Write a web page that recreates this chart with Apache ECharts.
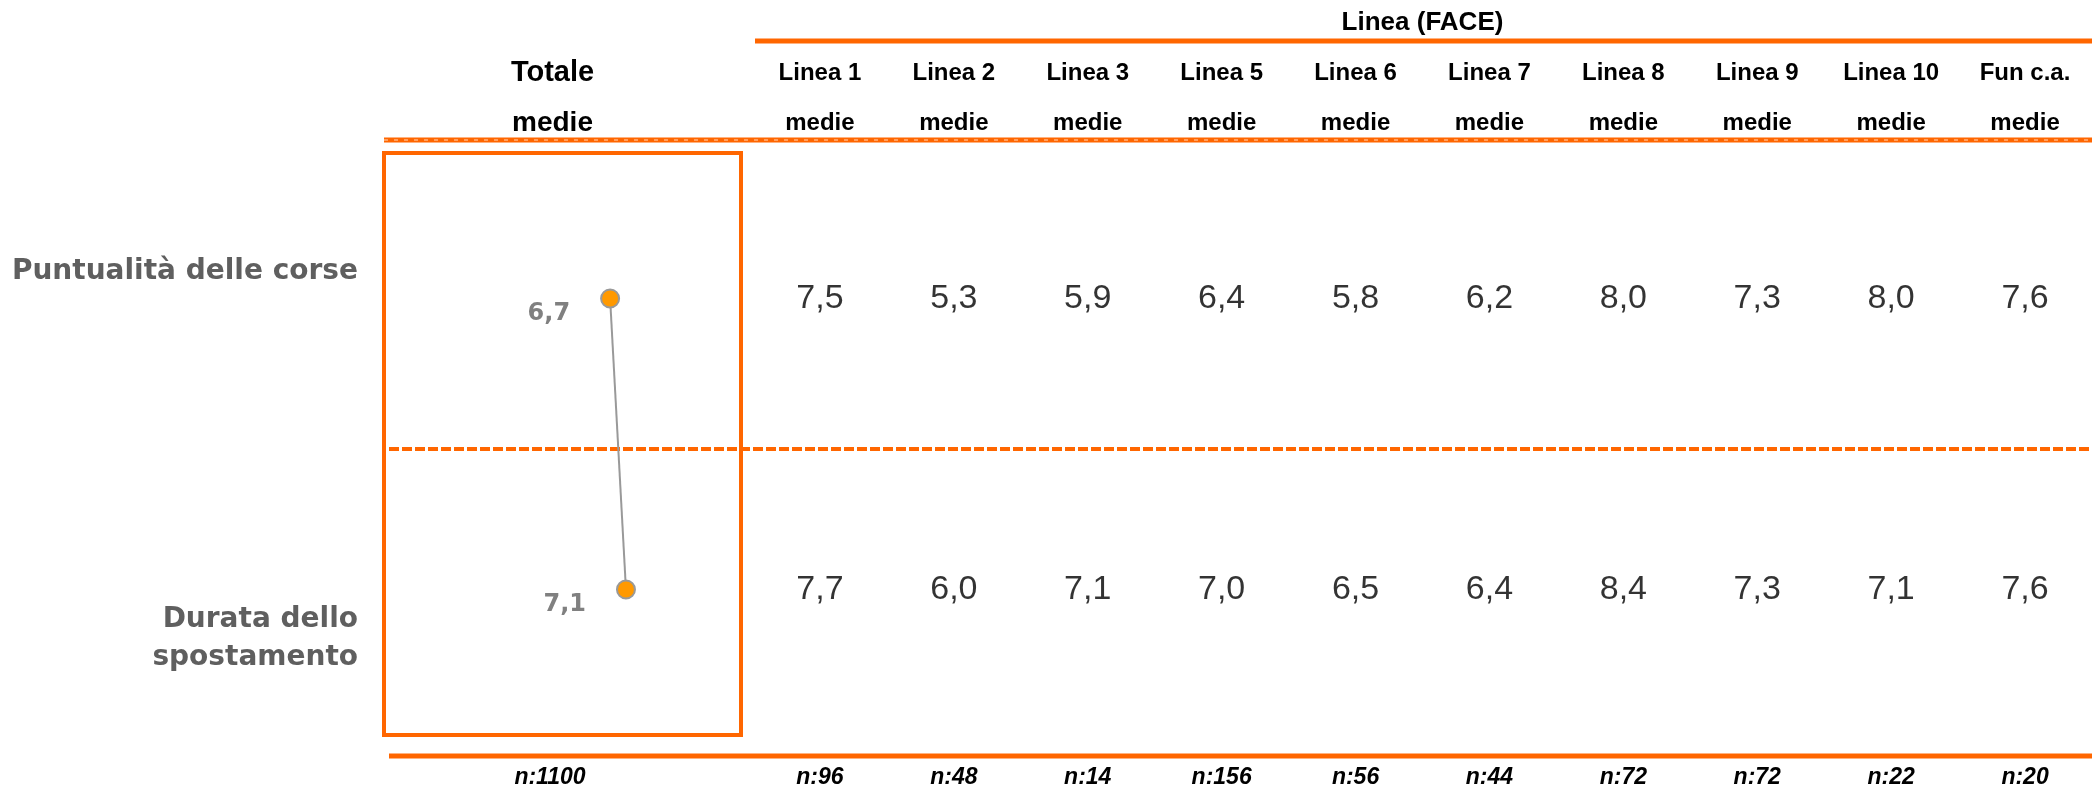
<!DOCTYPE html>
<html>
<head>
<meta charset="utf-8">
<script src="https://cdn.jsdelivr.net/npm/echarts@6/dist/echarts.min.js"></script>
<style>
  html, body { margin: 0; padding: 0; background: #ffffff; }
  #chart { width: 2092px; height: 794px; }
</style>
</head>
<body>
<div id="chart"></div>
<script>
// Survey aspects (rows)
const aspects = ['Puntualità delle corse', 'Durata dello spostamento'];
// Overall mean per aspect
const totalMeans = [6.7, 7.1];
// Bus lines (columns)
const lines = ['Linea 1', 'Linea 2', 'Linea 3', 'Linea 5', 'Linea 6', 'Linea 7', 'Linea 8', 'Linea 9', 'Linea 10', 'Fun c.a.'];
// Mean per line for each aspect
const punctualityByLine = [7.5, 5.3, 5.9, 6.4, 5.8, 6.2, 8.0, 7.3, 8.0, 7.6];
const durationByLine = [7.7, 6.0, 7.1, 7.0, 6.5, 6.4, 8.4, 7.3, 7.1, 7.6];
// Sample sizes
const sampleTotal = 1100;
const sampleByLine = [96, 48, 14, 156, 56, 44, 72, 72, 22, 20];
const groupTitle = 'Linea (FACE)';
const statLabel = 'medie';
const totalLabel = 'Totale';

const ORANGE = '#FF6600';
const fmt = v => v.toFixed(1).replace('.', ',');

const tableData = [];
lines.forEach((ln, i) => {
  tableData.push([ln, aspects[0], punctualityByLine[i]]);
  tableData.push([ln, aspects[1], durationByLine[i]]);
});

const chart = echarts.init(document.getElementById('chart'), null, { renderer: 'canvas' });

const hiddenAxis = {
  axisLine: { show: false }, axisTick: { show: false },
  axisLabel: { show: false }, splitLine: { show: false }
};

const rowFont = { fontFamily: 'DejaVu Sans', fontWeight: 'bold', fontSize: 28, color: '#5f5f5f', lineHeight: 38 };

chart.setOption({
  backgroundColor: '#ffffff',
  animation: false,
  grid: [
    { left: 384, top: 153, width: 357, height: 582, show: true,
      borderColor: ORANGE, borderWidth: 4, backgroundColor: 'transparent' },
    { left: 753, top: 153, width: 1344, height: 582 }
  ],
  xAxis: [
    // totals: value scale of the dot plot, header on top
    Object.assign({
      type: 'value', gridIndex: 0, min: 1, max: 10, position: 'top',
      name: '{t|' + totalLabel + '}\n{m|' + statLabel + '}',
      nameLocation: 'middle', nameGap: 5,
      nameTextStyle: {
        padding: [0, 20, 0, 0],
        rich: {
          t: { fontFamily: 'Liberation Sans', fontWeight: 'bold', fontSize: 29, color: '#000', lineHeight: 50 },
          m: { fontFamily: 'Liberation Sans', fontWeight: 'bold', fontSize: 28, color: '#000', lineHeight: 50 }
        }
      }
    }, hiddenAxis),
    // totals: sample size below
    Object.assign({
      type: 'value', gridIndex: 0, min: 1, max: 10, position: 'bottom',
      name: 'n:' + sampleTotal, nameLocation: 'middle', nameGap: 31,
      nameTextStyle: { fontFamily: 'Liberation Sans', fontWeight: 'bold', fontStyle: 'italic',
        fontSize: 23, color: '#000', padding: [0, 25, 0, 0] }
    }, hiddenAxis),
    // lines: column headers
    {
      type: 'category', gridIndex: 1, data: lines, position: 'top',
      name: groupTitle, nameLocation: 'middle', nameGap: 117,
      nameTextStyle: { fontFamily: 'Liberation Sans', fontWeight: 'bold', fontSize: 26, color: '#000' },
      axisLine: { show: false }, axisTick: { show: false }, splitLine: { show: false },
      axisLabel: {
        margin: 5, interval: 0,
        formatter: v => '{a|' + v + '}\n{b|' + statLabel + '}',
        rich: {
          a: { fontFamily: 'Liberation Sans', fontWeight: 'bold', fontSize: 24, color: '#000', lineHeight: 50 },
          b: { fontFamily: 'Liberation Sans', fontWeight: 'bold', fontSize: 24, color: '#000', lineHeight: 50 }
        }
      }
    },
    // lines: sample sizes
    {
      type: 'category', gridIndex: 1, data: sampleByLine.map(n => 'n:' + n), position: 'bottom',
      axisLine: { show: false }, axisTick: { show: false }, splitLine: { show: false },
      axisLabel: { margin: 31, interval: 0, fontFamily: 'Liberation Sans', fontWeight: 'bold',
        fontStyle: 'italic', fontSize: 23, color: '#000' }
    }
  ],
  yAxis: [
    {
      type: 'category', gridIndex: 0, data: aspects, inverse: true,
      axisLine: { show: false }, axisTick: { show: false }, splitLine: { show: false },
      axisLabel: {
        margin: 26, interval: 0,
        formatter: v => {
          if (v === aspects[0]) return '{r1|' + v + '}\n{gap1| }';
          return '{gap2| }\n{r2|Durata dello}\n{r2|spostamento}';
        },
        rich: {
          r1: rowFont,
          r2: rowFont,
          gap1: { fontSize: 10, lineHeight: 53 },
          gap2: { fontSize: 10, lineHeight: 99 }
        }
      }
    },
    Object.assign({ type: 'category', gridIndex: 1, data: aspects, inverse: true }, hiddenAxis)
  ],
  series: [
    {
      type: 'line', xAxisIndex: 0, yAxisIndex: 0,
      data: totalMeans.map((v, i) => [v, aspects[i]]),
      symbol: 'circle', symbolSize: 18,
      lineStyle: { color: '#999999', width: 2 },
      itemStyle: { color: '#FF9900', borderColor: '#999999', borderWidth: 2 },
      label: {
        show: true, position: 'left', distance: 30, offset: [0, 15],
        formatter: p => fmt(p.value[0]),
        fontFamily: 'DejaVu Sans', fontWeight: 'bold', fontSize: 24, color: '#808080'
      },
      z: 5
    },
    {
      type: 'scatter', xAxisIndex: 2, yAxisIndex: 1,
      data: tableData, symbolSize: 1,
      itemStyle: { color: 'rgba(0,0,0,0)' },
      label: {
        show: true, position: 'inside',
        formatter: p => fmt(p.value[2]),
        fontFamily: 'Liberation Sans', fontSize: 34, color: '#000'
      }
    }
  ],
  graphic: [
    { type: 'line', shape: { x1: 755, y1: 41, x2: 2092, y2: 41 },
      style: { stroke: ORANGE, lineWidth: 5 } },
    { type: 'line', shape: { x1: 384, y1: 140, x2: 2092, y2: 140 },
      style: { stroke: ORANGE, lineWidth: 5 } },
    { type: 'line', shape: { x1: 384, y1: 140, x2: 2092, y2: 140 },
      style: { stroke: '#ffd9bf', lineWidth: 1, lineDash: [4, 6] } },
    { type: 'line', shape: { x1: 389, y1: 449, x2: 2092, y2: 449 },
      style: { stroke: ORANGE, lineWidth: 4, lineDash: [10, 3] } },
    { type: 'line', shape: { x1: 389, y1: 756, x2: 2092, y2: 756 },
      style: { stroke: ORANGE, lineWidth: 5 } }
  ]
});
</script>
</body>
</html>
